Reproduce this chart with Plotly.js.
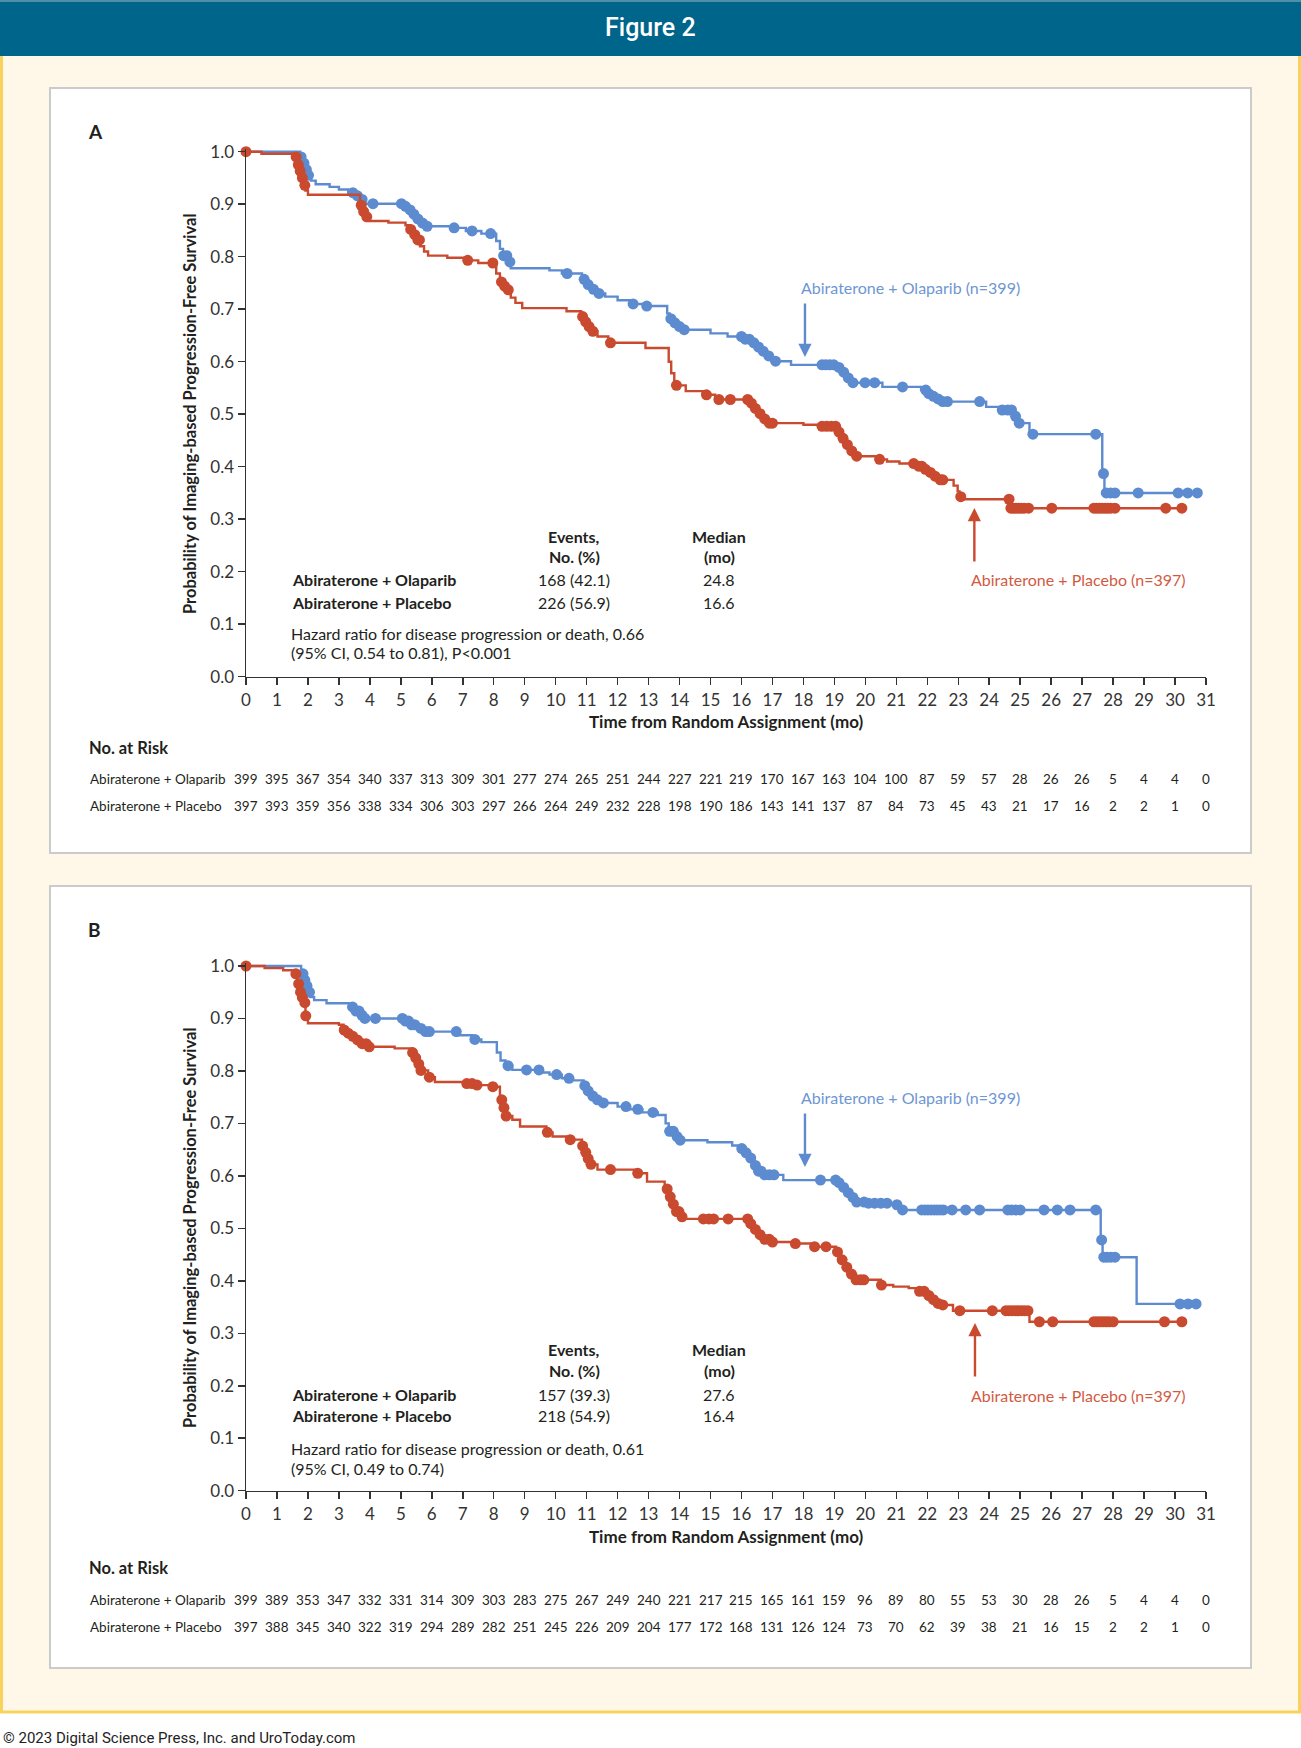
<!DOCTYPE html>
<html>
<head>
<meta charset="utf-8">
<script src="https://cdn.plot.ly/plotly-3.0.1.min.js"></script>
<style>
  html, body { margin: 0; padding: 0; background: #ffffff; }
  #fig { width: 1301px; height: 1748px; }
</style>
</head>
<body>
<div id="fig"></div>
<script>
// ---------- Data ----------
const months = [0,1,2,3,4,5,6,7,8,9,10,11,12,13,14,15,16,17,18,19,20,21,22,23,24,25,26,27,28,29,30,31];

// Panel A: Kaplan-Meier steps (time in months, survival probability)
const olapA_time = [0,1.75,1.84,1.92,2.0,2.1,2.25,2.7,3.0,3.3,3.55,3.7,3.82,5.08,5.25,5.38,5.52,5.65,5.8,6.6,7.1,7.6,8.08,8.2,8.3,8.45,8.55,9.8,10.2,10.85,10.98,11.15,11.35,11.6,12.0,12.4,12.85,13.6,13.68,13.8,13.95,14.1,15.0,15.55,16.05,16.3,16.45,16.6,16.8,17.0,17.6,19.1,19.25,19.4,19.55,20.55,21.8,21.98,22.15,22.3,22.45,23.9,24.35,24.8,24.9,25.3,27.65,27.72];
const olapA_surv = [1.0,0.99,0.978,0.966,0.955,0.945,0.938,0.933,0.928,0.922,0.916,0.909,0.901,0.896,0.889,0.881,0.872,0.864,0.858,0.855,0.849,0.844,0.83,0.815,0.802,0.79,0.778,0.774,0.768,0.757,0.747,0.738,0.730,0.724,0.717,0.71,0.706,0.692,0.682,0.674,0.667,0.661,0.654,0.648,0.643,0.636,0.628,0.620,0.611,0.601,0.594,0.589,0.58,0.569,0.56,0.552,0.546,0.539,0.534,0.529,0.524,0.514,0.508,0.496,0.483,0.462,0.387,0.35];
const olapA_end = 30.75;
const olapA_censor = [1.78,1.87,1.95,2.02,3.45,3.6,3.75,4.1,5.02,5.15,5.3,5.42,5.55,5.7,5.85,6.72,7.3,7.9,8.32,8.42,8.52,10.37,10.92,11.05,11.22,11.4,12.5,12.94,13.72,13.85,14.0,14.15,16.0,16.12,16.25,16.4,16.55,16.7,16.88,17.1,18.6,18.72,18.85,18.98,19.15,19.3,19.45,19.6,19.99,20.3,21.2,21.95,22.05,22.2,22.35,22.5,22.65,23.69,24.42,24.6,24.72,24.85,24.97,25.41,27.44,27.69,27.78,27.92,28.06,28.81,30.1,30.41,30.72];

const placA_time = [0,0.5,1.58,1.66,1.72,1.79,1.86,1.92,2.0,3.68,3.76,3.86,3.96,4.6,5.15,5.3,5.42,5.52,5.62,5.75,5.88,6.5,7.1,7.5,8.08,8.2,8.3,8.42,8.55,8.7,8.92,10.35,10.82,10.92,11.02,11.15,11.35,11.7,12.9,13.65,13.73,13.83,14.2,14.75,15.15,16.25,16.38,16.52,16.68,16.85,18.0,18.55,19.08,19.22,19.36,19.5,19.65,20.35,20.7,21.1,21.7,21.88,22.05,22.2,22.38,22.85,22.98,23.04,23.15,24.66];
const placA_surv = [1.0,0.996,0.99,0.975,0.963,0.95,0.936,0.926,0.918,0.898,0.886,0.876,0.868,0.865,0.860,0.852,0.842,0.832,0.82,0.81,0.802,0.798,0.793,0.788,0.768,0.752,0.744,0.737,0.722,0.712,0.702,0.696,0.686,0.676,0.667,0.658,0.648,0.636,0.626,0.60,0.578,0.555,0.544,0.537,0.528,0.521,0.511,0.501,0.491,0.483,0.48,0.477,0.466,0.454,0.442,0.43,0.42,0.414,0.41,0.406,0.401,0.395,0.389,0.382,0.375,0.364,0.353,0.343,0.338,0.321];
const placA_end = 30.22;
const placA_censor = [0,1.62,1.69,1.75,1.82,1.9,3.72,3.8,3.9,5.32,5.45,5.55,5.6,7.16,7.97,8.25,8.35,8.47,10.87,10.97,11.08,11.2,11.77,13.9,14.87,15.27,15.64,16.2,16.32,16.45,16.6,16.75,16.9,17.0,18.6,18.75,18.9,19.04,19.15,19.28,19.42,19.56,19.72,20.46,21.56,21.72,21.82,21.94,22.1,22.25,22.42,22.5,23.08,24.64,24.7,24.78,24.86,24.95,25.04,25.13,25.27,26.02,27.38,27.47,27.56,27.65,27.74,27.83,27.92,28.06,29.7,30.22];

// Panel B
const olapB_time = [0,1.78,1.86,1.93,2.0,2.08,2.2,2.6,3.38,3.52,3.66,3.8,5.1,5.3,5.5,5.68,6.85,7.3,7.6,8.1,8.22,8.38,8.6,9.55,9.8,10.2,10.5,10.9,11.02,11.17,11.32,11.5,12.0,12.4,12.8,13.3,13.55,13.65,13.85,14.0,14.9,15.7,15.9,16.1,16.25,16.4,16.52,16.65,17.35,19.08,19.2,19.35,19.5,19.7,20.0,20.8,21.1,27.6,27.66,28.76];
const olapB_surv = [1.0,0.985,0.973,0.962,0.95,0.941,0.935,0.929,0.922,0.914,0.906,0.9,0.895,0.888,0.881,0.875,0.868,0.860,0.855,0.835,0.82,0.81,0.802,0.797,0.793,0.786,0.782,0.772,0.762,0.752,0.745,0.739,0.732,0.727,0.721,0.716,0.700,0.685,0.675,0.668,0.664,0.658,0.652,0.644,0.634,0.62,0.609,0.602,0.592,0.587,0.578,0.568,0.559,0.55,0.548,0.545,0.535,0.478,0.445,0.356];
const olapB_end = 30.72;
const olapB_censor = [1.84,1.9,1.97,2.05,3.44,3.55,3.65,3.75,3.84,4.18,5.05,5.15,5.25,5.35,5.45,5.65,5.8,5.92,6.79,7.39,8.46,9.06,9.46,10.03,10.43,10.94,11.05,11.2,11.35,11.54,12.27,12.65,13.14,13.68,13.8,13.92,14.02,16.01,16.15,16.3,16.45,16.55,16.63,16.75,16.9,17.05,18.55,19.04,19.15,19.3,19.45,19.6,19.72,19.96,20.1,20.3,20.5,20.7,21.02,21.2,21.82,21.92,22.02,22.12,22.22,22.32,22.42,22.52,22.8,23.24,23.69,24.6,24.72,24.85,25.0,25.77,26.2,26.61,27.44,27.63,27.7,27.8,27.92,28.06,30.16,30.42,30.68];

const placB_time = [0,0.6,1.2,1.58,1.66,1.72,1.8,1.88,1.92,2.0,3.0,3.15,3.3,3.45,3.6,3.75,3.92,4.8,5.35,5.45,5.55,5.65,5.88,6.1,7.1,7.4,7.9,8.2,8.3,8.38,8.6,8.85,9.7,9.9,10.4,10.85,10.95,11.03,11.12,11.35,12.6,12.95,13.52,13.62,13.74,13.88,14.0,14.2,16.25,16.4,16.55,16.72,16.95,17.7,18.3,19.05,19.2,19.35,19.5,19.7,20.5,20.9,21.4,21.75,21.95,22.15,22.35,22.5,22.83,25.3];
const placB_surv = [1.0,0.996,0.992,0.985,0.966,0.95,0.94,0.93,0.905,0.891,0.888,0.878,0.872,0.866,0.859,0.852,0.846,0.843,0.835,0.825,0.813,0.801,0.788,0.779,0.776,0.773,0.770,0.745,0.73,0.714,0.707,0.694,0.683,0.675,0.669,0.657,0.645,0.633,0.622,0.612,0.605,0.589,0.575,0.56,0.546,0.532,0.522,0.518,0.509,0.498,0.488,0.479,0.474,0.471,0.465,0.455,0.44,0.426,0.413,0.402,0.392,0.389,0.386,0.38,0.372,0.364,0.357,0.354,0.343,0.322];
const placB_end = 30.22;
const placB_censor = [0,1.61,1.7,1.76,1.82,1.9,1.93,3.17,3.3,3.45,3.6,3.75,3.88,3.98,5.38,5.48,5.58,5.65,5.92,7.13,7.3,7.46,7.97,8.26,8.33,8.4,9.73,10.47,10.87,10.97,11.05,11.14,11.77,12.65,13.6,13.7,13.8,13.9,13.98,14.08,14.77,14.95,15.1,15.57,16.2,16.3,16.45,16.6,16.75,16.9,17.0,17.74,18.36,18.73,19.1,19.25,19.4,19.55,19.7,19.84,19.95,20.52,21.75,21.9,22.05,22.2,22.35,22.5,23.05,24.1,24.54,24.64,24.74,24.84,24.94,25.04,25.14,25.25,25.62,26.05,27.38,27.48,27.58,27.68,27.78,27.88,28.0,29.66,30.22];

// Numbers at risk at each month
const riskA_olap = [399,395,367,354,340,337,313,309,301,277,274,265,251,244,227,221,219,170,167,163,104,100,87,59,57,28,26,26,5,4,4,0];
const riskA_plac = [397,393,359,356,338,334,306,303,297,266,264,249,232,228,198,190,186,143,141,137,87,84,73,45,43,21,17,16,2,2,1,0];
const riskB_olap = [399,389,353,347,332,331,314,309,303,283,275,267,249,240,221,217,215,165,161,159,96,89,80,55,53,30,28,26,5,4,4,0];
const riskB_plac = [397,388,345,340,322,319,294,289,282,251,245,226,209,204,177,172,168,131,126,124,73,70,62,39,38,21,16,15,2,2,1,0];

// Summary table text
const armNames = ['Abiraterone + Olaparib', 'Abiraterone + Placebo'];
const eventsA = ['168 (42.1)', '226 (56.9)'];
const mediansA = ['24.8', '16.6'];
const eventsB = ['157 (39.3)', '218 (54.9)'];
const mediansB = ['27.6', '16.4'];
const hazardA = ['Hazard ratio for disease progression or death, 0.66', '(95% CI, 0.54 to 0.81), P<0.001'];
const hazardB = ['Hazard ratio for disease progression or death, 0.61', '(95% CI, 0.49 to 0.74)'];
const curveLabels = ['Abiraterone + Olaparib (n=399)', 'Abiraterone + Placebo (n=397)'];

// ---------- Drawing ----------
const W = 1301, H = 1748;
const px = v => v / W;
const py = v => 1 - v / H;

const BLUE = '#5c8bd0';
const RED = '#c94a2e';
const BLUE_TXT = '#6e96d3';
const RED_TXT = '#d35a42';
const INK = '#231f20';
const FONT = 'Lato, "Open Sans", "DejaVu Sans", sans-serif';

const X0 = 246, X31 = 1206;         // pixel positions of month 0 and month 31
const YMAX = 1.006;                 // small headroom so the line at 1.0 is not clipped

function survAt(t, s, time) {
  let v = s[0];
  for (let i = 0; i < t.length; i++) if (t[i] <= time) v = s[i];
  return v;
}
function stepTrace(t, s, end, color, xa, ya) {
  return {
    x: t.concat([end]), y: s.concat([s[s.length - 1]]),
    xaxis: xa, yaxis: ya, mode: 'lines', type: 'scatter',
    line: { shape: 'hv', color: color, width: 2.4 },
    cliponaxis: false, hoverinfo: 'skip', showlegend: false
  };
}
function censorTrace(t, s, c, color, xa, ya) {
  return {
    x: c, y: c.map(v => survAt(t, s, v)),
    xaxis: xa, yaxis: ya, mode: 'markers', type: 'scatter',
    marker: { size: 11, color: color },
    cliponaxis: false, hoverinfo: 'skip', showlegend: false
  };
}

const panels = [
  {
    xa: 'x', ya: 'y', top: 151.7, bottom: 676.7,
    box: [50, 88, 1251, 853], letter: 'A', letterY: 131.5,
    xTitleY: 721.5, yTitleY: 414,
    riskHeadY: 748, riskY: [779, 806],
    headY: [536, 556], rowY: [580, 602], hazY: [633, 652],
    events: eventsA, medians: mediansA, hazard: hazardA,
    blueLabelY: 287, redLabelY: 580,
    blueArrow: { x: 18.05, tipY: 357 }, redArrow: { x: 23.52, tipY: 508 },
    olap: [olapA_time, olapA_surv, olapA_end, olapA_censor],
    plac: [placA_time, placA_surv, placA_end, placA_censor],
    risk: [riskA_olap, riskA_plac]
  },
  {
    xa: 'x2', ya: 'y2', top: 966, bottom: 1490.7,
    box: [50, 886, 1251, 1668], letter: 'B', letterY: 929,
    xTitleY: 1536.5, yTitleY: 1228,
    riskHeadY: 1568, riskY: [1600, 1627],
    headY: [1349, 1370], rowY: [1394, 1415], hazY: [1448, 1468],
    events: eventsB, medians: mediansB, hazard: hazardB,
    blueLabelY: 1097, redLabelY: 1395,
    blueArrow: { x: 18.05, tipY: 1167 }, redArrow: { x: 23.54, tipY: 1323 },
    olap: [olapB_time, olapB_surv, olapB_end, olapB_censor],
    plac: [placB_time, placB_surv, placB_end, placB_censor],
    risk: [riskB_olap, riskB_plac]
  }
];

const traces = [];
const annotations = [];
const shapes = [];
const layout = {
  width: W, height: H,
  margin: { l: 0, r: 0, t: 0, b: 0, pad: 0 },
  paper_bgcolor: '#ffffff', plot_bgcolor: 'rgba(0,0,0,0)',
  font: { family: FONT, color: INK },
  showlegend: false
};

function txt(x, y, text, o) {
  o = o || {};
  annotations.push(Object.assign({
    xref: 'paper', yref: 'paper', x: px(x), y: py(y), text: text,
    showarrow: false, xanchor: 'left', yanchor: 'middle',
    font: { family: FONT, size: 16, color: INK }
  }, o));
}
const bold = size => ({ family: FONT, size: size, color: INK, weight: 'bold' });

// Page frame: cream panel with yellow border, blue header bar
shapes.push({ type: 'rect', xref: 'paper', yref: 'paper', layer: 'below',
  x0: px(1.5), x1: px(1299.5), y0: py(1712), y1: py(50),
  fillcolor: '#fff8e9', line: { color: '#f8d35c', width: 3 } });
shapes.push({ type: 'rect', xref: 'paper', yref: 'paper', layer: 'below',
  x0: 0, x1: 1, y0: py(56), y1: 1,
  fillcolor: '#00658b', line: { width: 0 } });
shapes.push({ type: 'line', xref: 'paper', yref: 'paper', layer: 'below',
  x0: 0, x1: 1, y0: py(1), y1: py(1), line: { color: '#4f8fab', width: 2 } });
txt(650.5, 28, 'Figure 2', { xanchor: 'center',
  font: { family: 'Roboto, "Open Sans", sans-serif', size: 25, color: '#ffffff', weight: 500 } });
txt(1, 1738, '© 2023 Digital Science Press, Inc. and UroToday.com',
  { font: { family: 'Roboto, "Open Sans", sans-serif', size: 15, color: '#222222' } });

panels.forEach((p, k) => {
  const sfx = k === 0 ? '' : '2';
  const ppu = p.bottom - p.top;
  // white panel card
  shapes.push({ type: 'rect', xref: 'paper', yref: 'paper', layer: 'below',
    x0: px(p.box[0]), x1: px(p.box[2]), y0: py(p.box[3]), y1: py(p.box[1]),
    fillcolor: '#ffffff', line: { color: '#cbcbcb', width: 2 } });

  layout['xaxis' + sfx] = {
    domain: [px(X0), px(X31)], range: [0, 31], anchor: 'y' + sfx,
    tickmode: 'array', tickvals: months, ticktext: months.map(String),
    showline: true, linecolor: '#333333', linewidth: 1.5,
    ticks: 'outside', ticklen: 7, tickwidth: 1.5, tickcolor: '#333333',
    showgrid: false, zeroline: false, fixedrange: true,
    tickfont: { family: FONT, size: 17, color: '#333333' }
  };
  layout['yaxis' + sfx] = {
    domain: [py(p.bottom), py(p.top - (YMAX - 1) * ppu)], range: [0, YMAX], anchor: 'x' + sfx,
    tickmode: 'linear', tick0: 0, dtick: 0.1, tickformat: '.1f',
    showline: true, linecolor: '#333333', linewidth: 1.5,
    ticks: 'outside', ticklen: 7, tickwidth: 1.5, tickcolor: '#333333',
    showgrid: false, zeroline: false, fixedrange: true,
    tickfont: { family: FONT, size: 17, color: '#333333' }
  };

  // curves: olaparib arm underneath, placebo arm on top
  traces.push(stepTrace(p.olap[0], p.olap[1], p.olap[2], BLUE, p.xa, p.ya));
  traces.push(censorTrace(p.olap[0], p.olap[1], p.olap[3], BLUE, p.xa, p.ya));
  traces.push(stepTrace(p.plac[0], p.plac[1], p.plac[2], RED, p.xa, p.ya));
  traces.push(censorTrace(p.plac[0], p.plac[1], p.plac[3], RED, p.xa, p.ya));

  // panel letter and axis titles
  txt(86, p.letterY, p.letter, { font: bold(19) });
  txt((X0 + X31) / 2, p.xTitleY, 'Time from Random Assignment (mo)',
    { xanchor: 'center', font: bold(17) });
  txt(190, p.yTitleY, 'Probability of Imaging-based Progression-Free Survival',
    { xanchor: 'center', textangle: -90, font: bold(16.5) });

  // summary table inside the plot
  txt(574, p.headY[0], 'Events,', { xanchor: 'center', font: bold(16) });
  txt(574, p.headY[1], 'No. (%)', { xanchor: 'center', font: bold(16) });
  txt(719, p.headY[0], 'Median', { xanchor: 'center', font: bold(16) });
  txt(719, p.headY[1], '(mo)', { xanchor: 'center', font: bold(16) });
  for (let r = 0; r < 2; r++) {
    txt(290, p.rowY[r], armNames[r], { font: bold(16) });
    txt(574, p.rowY[r], p.events[r], { xanchor: 'center' });
    txt(719, p.rowY[r], p.medians[r], { xanchor: 'center' });
    txt(289, p.hazY[r], p.hazard[r]);
  }

  // curve labels with arrows
  txt(799, p.blueLabelY, curveLabels[0], { font: { family: FONT, size: 16, color: BLUE_TXT } });
  txt(969, p.redLabelY, curveLabels[1], { font: { family: FONT, size: 16, color: RED_TXT } });
  annotations.push({
    xref: p.xa, yref: p.ya, x: p.blueArrow.x, y: (p.bottom - p.blueArrow.tipY) / ppu,
    ax: 0, ay: -55, text: '', showarrow: true, arrowhead: 2, arrowsize: 1.1, arrowwidth: 2.4,
    arrowcolor: BLUE, standoff: 0
  });
  annotations.push({
    xref: p.xa, yref: p.ya, x: p.redArrow.x, y: (p.bottom - p.redArrow.tipY) / ppu,
    ax: 0, ay: 55, text: '', showarrow: true, arrowhead: 2, arrowsize: 1.1, arrowwidth: 2.4,
    arrowcolor: RED, standoff: 0
  });

  // numbers at risk
  txt(87, p.riskHeadY, 'No. at Risk', { font: bold(16.5) });
  for (let r = 0; r < 2; r++) {
    txt(88, p.riskY[r], armNames[r], { font: { family: FONT, size: 13.5, color: INK } });
    p.risk[r].forEach((n, i) => {
      annotations.push({
        xref: p.xa, yref: 'paper', x: months[i], y: py(p.riskY[r]), text: String(n),
        showarrow: false, xanchor: 'center', yanchor: 'middle',
        font: { family: FONT, size: 13.5, color: INK }
      });
    });
  }
});

layout.annotations = annotations;
layout.shapes = shapes;

Plotly.newPlot('fig', traces, layout, { staticPlot: true, displayModeBar: false });
</script>
</body>
</html>
